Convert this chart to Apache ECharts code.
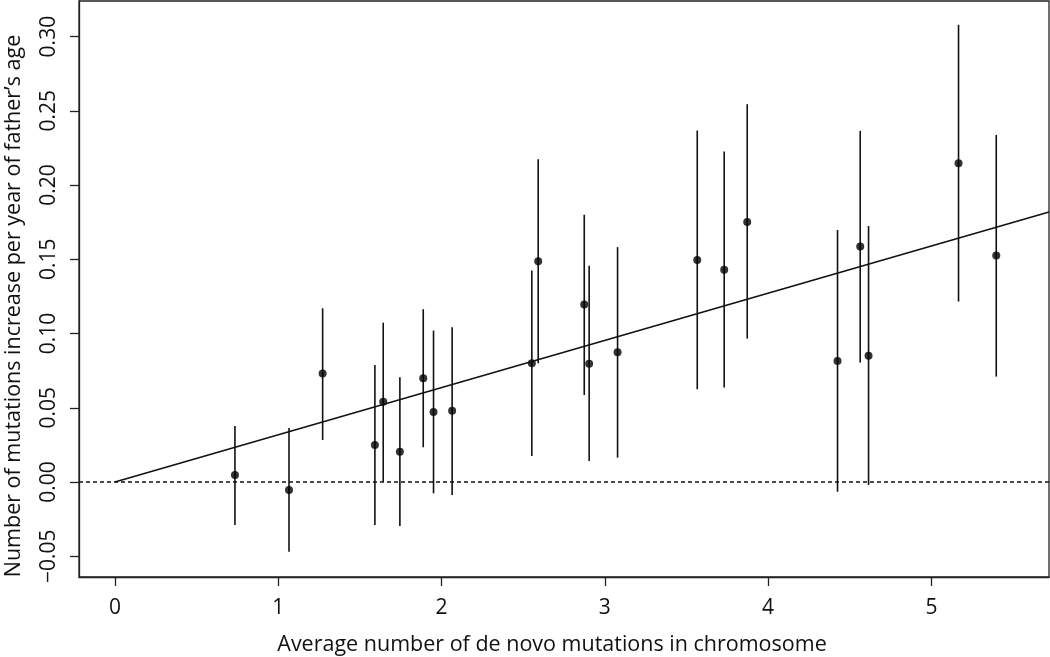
<!DOCTYPE html>
<html>
<head>
<meta charset="utf-8">
<script src="https://cdn.jsdelivr.net/npm/echarts@6/dist/echarts.min.js"></script>
<style>
html,body{margin:0;padding:0;background:#fff;}
#chart{width:1050px;height:657px;}
</style>
</head>
<body>
<div id="chart"></div>
<script>
// Average number of de novo mutations per chromosome
const xValues = [0.735, 1.066, 1.272, 1.592, 1.643, 1.745, 1.888, 1.951, 2.065, 2.553, 2.592,
  2.874, 2.904, 3.078, 3.566, 3.731, 3.872, 4.425, 4.564, 4.615, 5.166, 5.397];
// Estimated increase per year of father's age
const yValues = [0.0047, -0.0054, 0.0730, 0.0249, 0.0541, 0.0204, 0.0699, 0.0472, 0.0480, 0.0800, 0.1487,
  0.1195, 0.0797, 0.0874, 0.1496, 0.1429, 0.1752, 0.0815, 0.1586, 0.0851, 0.2147, 0.1525];
// Error bar upper ends
const yUpper = [0.0377, 0.0364, 0.1170, 0.0788, 0.1073, 0.0705, 0.1164, 0.1020, 0.1042, 0.1424, 0.2174,
  0.1800, 0.1456, 0.1582, 0.2367, 0.2226, 0.2545, 0.1698, 0.2365, 0.1725, 0.3080, 0.2338];
// Error bar lower ends
const yLower = [-0.0290, -0.0470, 0.0283, -0.0290, 0.0002, -0.0297, 0.0234, -0.0076, -0.0088, 0.0175, 0.0800,
  0.0586, 0.0142, 0.0164, 0.0625, 0.0636, 0.0966, -0.0065, 0.0804, -0.0020, 0.1215, 0.0710];
// Fitted regression line through the origin
const fitIntercept = 0;
const fitSlope = 0.0318;
const fitStartX = 0;
// Axis ranges and ticks
const xMin = -0.22, xMax = 5.72;
const yMin = -0.064, yMax = 0.324;
const xTicks = [0, 1, 2, 3, 4, 5];
const yTicks = [-0.05, 0, 0.05, 0.10, 0.15, 0.20, 0.25, 0.30];
const xTitle = 'Average number of de novo mutations in chromosome';
const yTitle = 'Number of mutations increase per year of father\u2019s age';

const FONT = 'Open Sans';
const points = xValues.map((x, i) => [x, yValues[i]]);
const bars = xValues.map((x, i) => [x, yLower[i], yUpper[i]]);
const fitLine = [[fitStartX, fitIntercept + fitSlope * fitStartX], [xMax, fitIntercept + fitSlope * xMax]];
const zeroLine = [[xMin, 0], [xMax, 0]];

const chart = echarts.init(document.getElementById('chart'), null, {renderer: 'canvas'});
chart.setOption({
  animation: false,
  backgroundColor: '#fff',
  grid: {left: 79, right: 1, top: 1, bottom: 80, containLabel: false, outerBoundsMode: 'none',
    show: true, borderColor: '#222', borderWidth: 1.3, backgroundColor: 'transparent'},
  xAxis: {
    type: 'value', min: xMin, max: xMax,
    splitLine: {show: false},
    axisLine: {show: true, onZero: false, lineStyle: {color: '#222', width: 1.3}},
    axisTick: {show: true, inside: false, length: 9, customValues: xTicks, lineStyle: {color: '#222', width: 1.3}},
    axisLabel: {customValues: xTicks, margin: 21, fontFamily: FONT, fontSize: 21, color: '#111', formatter: v => String(v)},
    name: xTitle, nameLocation: 'middle', nameGap: 57, nameMoveOverlap: false,
    nameTextStyle: {fontFamily: FONT, fontSize: 21.5, color: '#111', padding: [0, 24, 0, 0]}
  },
  yAxis: {
    type: 'value', min: yMin, max: yMax,
    splitLine: {show: false},
    axisLine: {show: true, onZero: false, lineStyle: {color: '#222', width: 1.3}},
    axisTick: {show: true, inside: false, length: 9, customValues: yTicks, lineStyle: {color: '#222', width: 1.3}},
    axisLabel: {customValues: yTicks, rotate: 90, margin: 19, fontFamily: FONT, fontSize: 21, color: '#111',
      formatter: v => (v < 0 ? '\u2212' : '') + Math.abs(v).toFixed(2)},
    name: yTitle, nameLocation: 'middle', nameGap: 54, nameMoveOverlap: false,
    nameTextStyle: {fontFamily: FONT, fontSize: 21.5, color: '#111', padding: [0, 34, 0, 0]}
  },
  series: [
    {
      type: 'line', data: zeroLine, symbol: 'none', silent: true,
      lineStyle: {color: '#111', width: 1.4, type: [4, 3]}
    },
    {
      type: 'line', data: fitLine, symbol: 'none', silent: true,
      lineStyle: {color: '#111', width: 1.6}
    },
    {
      type: 'custom', data: bars, silent: true,
      renderItem: (params, api) => {
        const p1 = api.coord([api.value(0), api.value(1)]);
        const p2 = api.coord([api.value(0), api.value(2)]);
        return {type: 'line', shape: {x1: p1[0], y1: p1[1], x2: p2[0], y2: p2[1]},
          style: {stroke: '#111', lineWidth: 1.6}};
      },
      encode: {x: 0, y: [1, 2]}
    },
    {
      type: 'scatter', data: points, symbol: 'circle', symbolSize: 8, silent: true,
      itemStyle: {color: '#000'}
    }
  ]
});
</script>
</body>
</html>
